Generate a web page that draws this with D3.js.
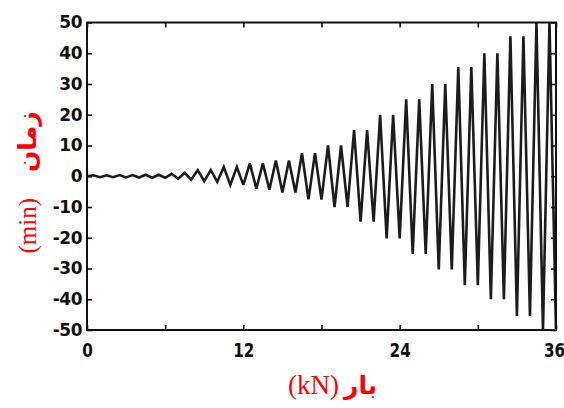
<!DOCTYPE html>
<html>
<head>
<meta charset="utf-8">
<script src="https://cdn.jsdelivr.net/npm/d3@7"></script>
<style>
  html, body { margin: 0; padding: 0; background: #fff; }
  svg { display: block; }
</style>
</head>
<body>
<svg id="chart" width="564" height="408"></svg>
<script>
// Cyclic loading history: one up/down cycle per unit on the horizontal axis.
// Positive peak of each cycle (reached half-way through the cycle).
const cyclePeaks = [
  0.3, 0.3, 0.4, 0.4, 0.5, 0.5, 0.8, 1.1,
  2, 2, 3, 3, 4.2, 4.2, 5.1, 5.1,
  7.5, 7.5, 10, 10, 15, 15, 20, 20,
  25, 25, 30, 30, 35.5, 35.5, 40, 40,
  45.5, 45.5, 50, 50
];
// Negative peak of each cycle (reached at the end of the cycle).
const cycleTroughs = [
  -0.3, -0.3, -0.4, -0.4, -0.5, -0.5, -0.8, -1.1,
  -1.6, -1.8, -2.8, -2.8, -4.0, -4.4, -5.3, -5.3,
  -7.5, -7.6, -10, -10, -14.8, -14.8, -20.2, -20.2,
  -25.3, -25.3, -30.3, -30.3, -35.4, -35.4, -40, -40,
  -45.4, -45.4, -50, -50
];
const xTickValues = [0, 6, 12, 18, 24, 30, 36];
const xTickLabels = [0, 12, 24, 36];
const yTickValues = [-50, -40, -30, -20, -10, 0, 10, 20, 30, 40, 50];

const xTitleLatin = "(kN)";
const xTitleFarsi = "بار";
const yTitleLatin = "(min)";
const yTitleFarsi = "زمان";

const svg = d3.select("#chart");
const plot = { left: 87, right: 556, top: 22.5, bottom: 330 };

const x = d3.scaleLinear().domain([0, 36]).range([plot.left, plot.right]);
const y = d3.scaleLinear().domain([-50, 50]).range([plot.bottom, plot.top]);

// Vertices of the triangular signal
const points = [[0, 0]];
cyclePeaks.forEach((p, i) => {
  points.push([i + 0.5, p]);
  points.push([i + 1, cycleTroughs[i]]);
});

svg.append("defs").append("clipPath").attr("id", "plot-clip")
  .append("rect")
  .attr("x", plot.left).attr("y", plot.top)
  .attr("width", plot.right - plot.left).attr("height", plot.bottom - plot.top);

const line = d3.line().x(d => x(d[0])).y(d => y(d[1]));

svg.append("path")
  .datum(points)
  .attr("clip-path", "url(#plot-clip)")
  .attr("fill", "none")
  .attr("stroke", "#1c1c1c")
  .attr("stroke-width", 2.6)
  .attr("stroke-linejoin", "miter")
  .attr("stroke-miterlimit", 3)
  .attr("d", line);

// Axes with inward ticks on all four sides
const tick = 5;
function styleAxis(g) {
  g.select(".domain").remove();
  g.selectAll(".tick line").attr("stroke", "#111").attr("stroke-width", 1.6);
}

svg.append("g")
  .attr("transform", `translate(${plot.left},0)`)
  .call(d3.axisLeft(y).tickValues(yTickValues).tickSizeInner(-tick).tickSizeOuter(0).tickPadding(5))
  .call(styleAxis)
  .call(g => g.selectAll("text")
    .attr("fill", "#111")
    .attr("font-family", "'DejaVu Sans', sans-serif")
    .attr("font-weight", "bold")
    .attr("font-size", 17)
    .attr("letter-spacing", -0.5)
    .text(d => String(d)));

svg.append("g")
  .attr("transform", `translate(${plot.right},0)`)
  .call(d3.axisRight(y).tickValues(yTickValues).tickSizeInner(-tick).tickSizeOuter(0).tickFormat(""))
  .call(styleAxis);

svg.append("g")
  .attr("transform", `translate(0,${plot.top})`)
  .call(d3.axisTop(x).tickValues(xTickValues).tickSizeInner(-tick).tickSizeOuter(0).tickFormat(""))
  .call(styleAxis);

svg.append("g")
  .attr("transform", `translate(0,${plot.bottom})`)
  .call(d3.axisBottom(x).tickValues(xTickValues).tickSizeInner(-tick).tickSizeOuter(0).tickPadding(14)
    .tickFormat(d => xTickLabels.includes(d) ? String(d) : ""))
  .call(styleAxis)
  .call(g => g.selectAll("text")
    .attr("fill", "#111")
    .attr("font-family", "'DejaVu Sans', sans-serif")
    .attr("font-weight", "bold")
    .attr("font-size", 19)
    .attr("transform", d => d === 36 ? "translate(-2,0) scale(0.8,1)" : "scale(0.8,1)"));

// Plot frame
svg.append("rect")
  .attr("x", plot.left).attr("y", plot.top)
  .attr("width", plot.right - plot.left).attr("height", plot.bottom - plot.top)
  .attr("fill", "none").attr("stroke", "#111").attr("stroke-width", 2);

// Axis titles (red): Latin unit first, Persian word after it
function title(g) {
  const t = g.datum();
  g.append("text")
    .attr("x", -2).attr("y", 0)
    .attr("text-anchor", "end")
    .attr("font-family", "'Liberation Serif', serif")
    .attr("font-size", t.size)
    .attr("fill", "#ff0000")
    .text(t.latin);
  g.append("text")
    .attr("x", t.gap).attr("y", 0)
    .attr("text-anchor", "start")
    .attr("font-family", "'DejaVu Sans', sans-serif")
    .attr("font-weight", "bold")
    .attr("font-size", 25)
    .attr("fill", "#ff0000")
    .text(t.farsi);
}

svg.append("g")
  .datum({ latin: xTitleLatin, farsi: xTitleFarsi, size: 27, gap: 3 })
  .attr("transform", "translate(341,394)")
  .call(title);

svg.append("g")
  .datum({ latin: yTitleLatin, farsi: yTitleFarsi, size: 25, gap: 24 })
  .attr("transform", "translate(36,196) rotate(-90)")
  .call(title);
</script>
</body>
</html>
